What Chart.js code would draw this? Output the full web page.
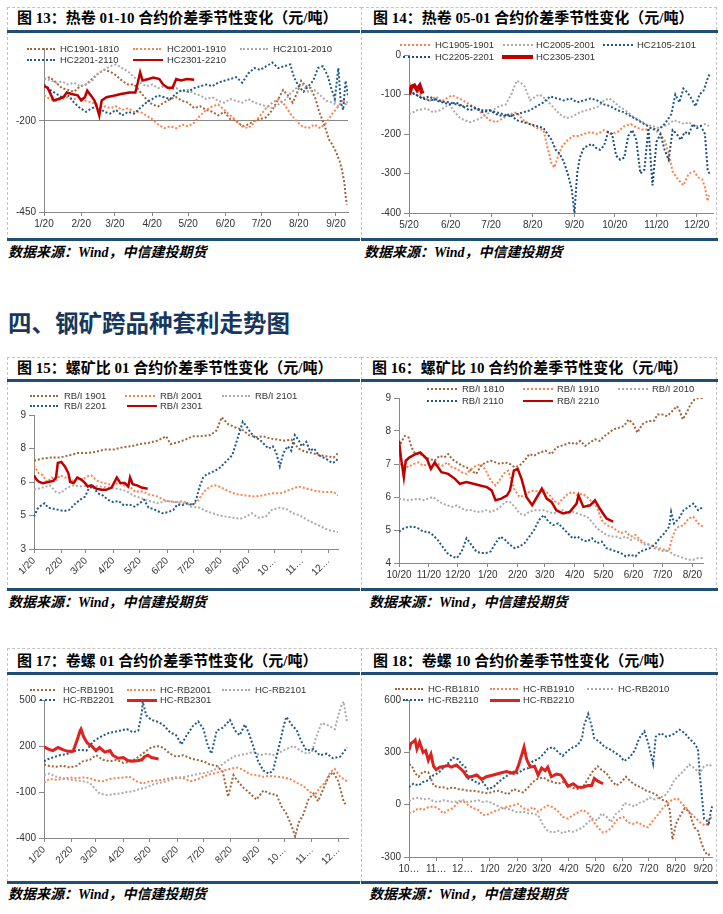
<!DOCTYPE html>
<html>
<head>
<meta charset="utf-8">
<title>钢矿价差季节性</title>
<script src="https://cdn.jsdelivr.net/npm/chart.js@4.4.1/dist/chart.umd.min.js"></script>
<style>
body { margin:0; width:723px; height:914px; position:relative; background:#fff; overflow:hidden; }
.box { position:absolute; border:1px dashed #c4c4c4; box-sizing:border-box; }
.ttl { position:absolute; font-family:"Liberation Serif","Noto Sans CJK SC",serif; font-weight:bold; font-size:15px; line-height:16px; color:#000; white-space:nowrap; }
.rule { position:absolute; height:3px; background:#1f4e79; }
.src { position:absolute; font-family:"Liberation Serif","Noto Sans CJK SC",serif; font-style:italic; font-weight:bold; font-size:14px; line-height:14px; color:#000; white-space:nowrap; }
.head { position:absolute; left:8px; top:308px; font-family:"Noto Sans CJK SC",sans-serif; font-weight:bold; font-size:23.5px; line-height:28px; color:#17375e; white-space:nowrap; }
canvas { position:absolute; }
.lgs { position:absolute; height:0; }
.lgt { position:absolute; font-family:"Liberation Sans","DejaVu Sans",sans-serif; font-size:9.5px; line-height:12px; color:#333; white-space:nowrap; }
</style>
</head>
<body>
<div class="head">四、钢矿跨品种套利走势图</div>
<script>
// data points are [days after first axis date, value]

// 图13 热卷01-10 (days from 1/20)
const hc1901_1810 = [[0,-85],[5,-80],[10,-95],[15,-110],[20,-115],[25,-120],[30,-105],[35,-100],[40,-85],[45,-70],[50,-60],[55,-65],[60,-75],[65,-90],[70,-100],[75,-100],[80,-120],[85,-140],[90,-155],[95,-160],[100,-150],[105,-140],[110,-135],[115,-145],[120,-150],[125,-165],[130,-160],[135,-170],[140,-175],[145,-185],[150,-175],[155,-195],[160,-200],[165,-215],[170,-210],[175,-200],[180,-195],[185,-190],[190,-170],[195,-140],[199,-115],[203,-130],[207,-150],[211,-120],[214,-90],[218,-105],[222,-110],[226,-140],[229,-175],[232,-200],[234,-217],[237,-250],[240,-265],[243,-285],[246,-310],[248,-335],[250,-370],[251,-405],[252,-430]];
const hc2001_1910 = [[0,-130],[5,-140],[10,-145],[15,-140],[20,-135],[25,-140],[30,-135],[35,-145],[40,-150],[45,-155],[50,-160],[55,-165],[60,-160],[65,-170],[70,-165],[75,-175],[80,-175],[85,-185],[90,-195],[95,-210],[100,-220],[105,-215],[110,-220],[115,-210],[120,-215],[125,-205],[130,-185],[135,-170],[140,-160],[145,-155],[150,-170],[155,-185],[160,-200],[165,-215],[170,-220],[175,-205],[180,-185],[185,-165],[190,-150],[195,-140],[200,-155],[205,-180],[210,-200],[215,-215],[220,-220],[225,-210],[230,-220],[235,-205],[240,-180],[245,-160],[249,-140],[252,-160]];
const hc2101_2010 = [[0,-85],[5,-88],[10,-95],[15,-92],[20,-100],[25,-95],[30,-105],[35,-100],[40,-90],[45,-70],[50,-60],[55,-50],[60,-45],[65,-55],[70,-65],[75,-80],[80,-95],[85,-105],[90,-100],[95,-110],[100,-105],[105,-115],[110,-110],[115,-120],[120,-115],[125,-125],[130,-130],[135,-140],[140,-135],[145,-145],[150,-150],[155,-140],[160,-145],[165,-150],[170,-140],[175,-150],[180,-155],[185,-160],[190,-165],[195,-155],[200,-145],[205,-125],[210,-110],[215,-100],[220,-120],[225,-115],[230,-130],[235,-145],[240,-150],[245,-160],[250,-145],[253,-150]];
const hc2201_2110 = [[0,-100],[5,-115],[10,-125],[15,-135],[20,-130],[25,-150],[30,-165],[35,-175],[40,-165],[45,-160],[50,-175],[55,-180],[60,-170],[65,-185],[70,-175],[75,-180],[80,-165],[85,-150],[90,-140],[95,-130],[100,-135],[105,-140],[110,-125],[115,-115],[120,-120],[125,-110],[130,-105],[135,-100],[140,-105],[145,-95],[150,-90],[155,-85],[160,-80],[165,-95],[170,-70],[175,-55],[180,-60],[185,-50],[190,-40],[195,-55],[200,-50],[205,-45],[208,-80],[212,-105],[216,-120],[220,-105],[224,-90],[228,-55],[232,-50],[236,-75],[239,-110],[242,-140],[245,-55],[247,-150],[249,-170],[251,-90],[253,-130]];
const hc2301_2210 = [[0,-105],[3,-109],[6,-130],[8,-144],[12,-140],[16,-135],[19,-122],[23,-126],[28,-130],[31,-144],[34,-135],[36,-117],[39,-130],[42,-144],[44,-162],[46,-185],[48,-144],[52,-135],[58,-131],[64,-126],[71,-122],[76,-122],[78,-96],[80,-67],[82,-89],[87,-85],[91,-81],[96,-85],[99,-100],[103,-109],[107,-109],[110,-85],[114,-89],[119,-85],[125,-87]];
const days13 = [0,31,59,90,120,151,181,212,243];
const labels13 = ['1/20','2/20','3/20','4/20','5/20','6/20','7/20','8/20','9/20'];
const yTicks13 = [-450,-200];

// 图14 热卷05-01 (days from 5/20)
const hc1905_1901 = [[0,-70],[4,-80],[8,-100],[12,-110],[16,-115],[20,-105],[24,-118],[28,-110],[32,-102],[36,-108],[40,-115],[45,-125],[50,-135],[55,-150],[60,-165],[65,-170],[70,-160],[75,-150],[80,-145],[85,-165],[90,-175],[95,-185],[100,-190],[103,-235],[106,-275],[108,-285],[111,-255],[114,-230],[118,-215],[122,-205],[126,-205],[130,-200],[135,-195],[140,-200],[145,-190],[150,-200],[155,-195],[160,-180],[165,-175],[170,-185],[175,-190],[180,-185],[185,-195],[190,-215],[193,-250],[196,-295],[200,-315],[204,-330],[208,-300],[212,-295],[215,-310],[218,-315],[220,-335],[222,-370],[223,-355]];
const hc2005_2001 = [[0,-150],[6,-140],[13,-135],[18,-145],[23,-140],[30,-125],[34,-145],[38,-160],[45,-170],[50,-165],[53,-160],[58,-150],[62,-140],[67,-130],[72,-125],[76,-100],[80,-65],[83,-70],[86,-80],[90,-115],[94,-105],[97,-100],[101,-110],[104,-120],[108,-135],[112,-150],[117,-160],[122,-155],[127,-145],[132,-140],[137,-135],[141,-130],[145,-115],[149,-110],[153,-120],[156,-130],[161,-140],[166,-155],[171,-165],[176,-175],[181,-180],[186,-185],[190,-180],[193,-175],[197,-165],[201,-170],[205,-175],[208,-170],[212,-180],[216,-180],[220,-175],[223,-180]];
const hc2105_2101 = [[0,-95],[5,-100],[10,-110],[15,-115],[20,-112],[25,-118],[30,-120],[35,-125],[40,-130],[45,-128],[50,-135],[55,-140],[60,-140],[65,-145],[70,-150],[75,-155],[80,-150],[85,-145],[90,-140],[95,-130],[100,-120],[105,-105],[110,-110],[115,-115],[120,-110],[125,-120],[130,-115],[135,-110],[140,-115],[145,-125],[150,-130],[155,-140],[160,-145],[165,-155],[170,-165],[175,-175],[180,-185],[185,-190],[190,-175],[195,-150],[198,-100],[201,-120],[204,-85],[207,-95],[210,-110],[213,-130],[216,-100],[219,-90],[222,-60],[224,-45]];
const hc2205_2201 = [[0,-90],[5,-100],[10,-110],[15,-105],[20,-115],[25,-120],[30,-125],[35,-120],[40,-130],[45,-140],[50,-135],[55,-145],[60,-140],[65,-150],[70,-155],[75,-150],[80,-165],[85,-170],[90,-175],[95,-180],[100,-185],[103,-200],[106,-215],[109,-240],[112,-250],[115,-270],[118,-300],[121,-340],[123,-400],[125,-300],[127,-260],[130,-235],[133,-230],[136,-225],[139,-235],[142,-240],[145,-230],[148,-195],[151,-200],[154,-255],[157,-265],[160,-260],[163,-205],[166,-190],[169,-215],[172,-300],[175,-290],[178,-185],[181,-330],[184,-220],[187,-200],[190,-240],[193,-265],[196,-190],[199,-200],[202,-215],[205,-195],[208,-200],[211,-175],[214,-185],[217,-180],[220,-200],[222,-290],[224,-305]];
const hc2305_2301 = [[0,-100],[2,-80],[4,-77],[6,-88],[8,-78],[10,-98]];
const days14 = [0,31,61,92,123,153,184,214];
const labels14 = ['5/20','6/20','7/20','8/20','9/20','10/20','11/20','12/20'];
const yTicks14 = [-400,-300,-200,-100,0];

// 图15 螺矿比01 (days from 1/20)
const rbi1901 = [[0,6.95],[10,7.05],[20,7.1],[30,7.1],[40,7.2],[50,7.3],[60,7.3],[70,7.35],[80,7.45],[90,7.45],[100,7.55],[110,7.6],[120,7.7],[130,7.75],[140,7.85],[150,8.05],[155,7.7],[165,7.8],[172,7.9],[180,8.05],[190,8.05],[200,8.1],[207,8.3],[213,8.9],[220,8.6],[228,8.45],[236,8.35],[244,8.1],[252,8.0],[260,8.05],[268,7.95],[276,7.9],[284,7.85],[292,7.9],[300,7.5],[308,7.35],[316,7.3],[324,7.2],[332,7.15],[340,7.1],[345,7.3]];
const rbi2001 = [[0,6.75],[5,6.4],[10,6.3],[15,6.0],[20,6.2],[25,6.1],[30,6.3],[35,6.2],[40,6.2],[45,6.0],[50,6.2],[55,6.1],[60,6.25],[65,6.3],[70,6.1],[75,6.0],[80,5.95],[85,5.9],[90,5.85],[95,5.95],[100,5.9],[105,5.8],[110,5.75],[115,5.55],[120,5.6],[125,5.55],[130,5.45],[140,5.35],[150,5.15],[160,5.1],[170,5.05],[180,5.0],[185,5.1],[190,5.4],[195,5.65],[200,5.8],[205,5.85],[210,5.8],[215,5.7],[220,5.6],[230,5.45],[240,5.4],[250,5.35],[260,5.4],[270,5.5],[280,5.5],[290,5.65],[300,5.8],[310,5.7],[320,5.6],[330,5.55],[340,5.55],[345,5.4]];
const rbi2101 = [[0,5.65],[10,5.75],[18,5.85],[25,5.55],[30,5.5],[38,5.75],[45,5.85],[55,5.8],[65,5.85],[75,5.8],[85,5.75],[95,5.7],[105,5.6],[112,5.4],[120,5.3],[130,5.15],[140,5.05],[150,5.15],[160,5.1],[170,5.15],[178,4.9],[188,4.85],[195,4.7],[203,4.6],[210,4.5],[218,4.45],[226,4.4],[234,4.35],[241,4.45],[247,4.6],[255,4.4],[263,4.45],[270,4.75],[278,4.85],[286,4.8],[294,4.6],[302,4.5],[310,4.3],[318,4.15],[326,4.0],[334,3.85],[340,3.8],[345,3.75]];
const rbi2201 = [[0,4.45],[4,4.8],[8,4.95],[12,5.05],[16,4.85],[22,4.8],[28,4.75],[34,4.7],[40,4.75],[46,5.0],[52,5.2],[58,5.35],[62,5.7],[67,5.8],[72,5.5],[78,5.4],[84,5.2],[90,5.1],[96,5.15],[102,4.95],[108,5.0],[114,4.9],[120,5.05],[125,5.2],[130,4.85],[135,4.8],[140,4.7],[146,4.6],[152,4.65],[158,4.75],[163,5.0],[168,4.95],[174,5.05],[180,4.95],[184,5.2],[188,5.8],[192,6.2],[196,6.35],[200,6.4],[205,6.5],[210,6.6],[215,6.8],[220,7.0],[225,7.2],[229,7.7],[233,8.2],[237,8.7],[241,8.5],[246,8.2],[251,8.0],[256,7.9],[261,7.7],[266,7.5],[271,7.6],[275,7.3],[279,6.7],[283,7.3],[288,7.6],[292,7.4],[296,8.1],[300,7.9],[304,7.6],[309,7.8],[313,7.4],[318,7.5],[323,7.2],[328,7.1],[333,7.0],[338,6.85],[342,6.9],[345,7.05]];
const rbi2301 = [[0,6.3],[3,6.1],[6,6.0],[10,5.95],[16,6.0],[22,6.05],[25,6.2],[27,6.85],[31,6.9],[35,6.7],[39,6.4],[41,6.0],[45,5.95],[49,6.2],[54,6.1],[58,5.95],[61,5.8],[65,5.85],[71,5.7],[77,5.65],[82,5.65],[88,5.75],[92,6.05],[94,6.2],[98,5.95],[103,5.95],[107,5.8],[109,6.2],[112,5.9],[117,5.85],[122,5.75],[129,5.7]];
const days15 = [0,31,59,90,120,151,181,212,243,273,304,334];
const labels15 = ['1/20','2/20','3/20','4/20','5/20','6/20','7/20','8/20','9/20','10\u2026','11\u2026','12\u2026'];
const yTicks15 = [3,4.5,6,7.5,9];
const yLabels15 = ['3','5','6','8','9'];

// 图16 螺矿比10 (days from 10/20)
const rbi1810 = [[0,7.5],[3,7.7],[6,7.85],[10,7.8],[13,7.5],[17,7.3],[22,7.3],[27,7.2],[32,7.15],[37,7.1],[42,7.25],[47,7.2],[51,7.3],[55,7.15],[60,7.05],[65,6.95],[70,6.9],[75,6.8],[80,6.7],[85,6.95],[90,7.05],[95,7.1],[100,7.05],[105,7.0],[110,7.05],[115,7.0],[120,6.9],[125,6.95],[130,7.1],[135,7.3],[140,7.25],[146,7.35],[152,7.4],[158,7.3],[163,7.5],[168,7.55],[173,7.6],[178,7.65],[183,7.6],[188,7.7],[193,7.55],[198,7.65],[203,7.75],[208,7.7],[213,7.85],[218,7.95],[222,8.05],[228,8.1],[233,8.15],[238,8.35],[243,8.2],[247,7.95],[252,8.2],[258,8.3],[264,8.3],[268,8.5],[273,8.5],[278,8.45],[283,8.6],[288,8.75],[291,8.6],[294,8.35],[298,8.55],[302,8.8],[306,8.95],[310,9.0],[315,9.0]];
const rbi1910 = [[0,7.0],[5,6.95],[10,6.9],[15,7.0],[20,7.05],[25,6.95],[30,7.0],[35,6.9],[40,7.0],[45,6.95],[50,7.05],[55,6.9],[60,6.85],[65,6.75],[70,6.7],[75,6.85],[80,6.95],[85,7.0],[90,6.8],[95,6.5],[100,6.35],[103,6.45],[106,6.6],[110,6.75],[113,6.8],[116,6.55],[120,6.2],[125,6.0],[130,6.05],[135,6.15],[140,6.2],[145,6.15],[150,6.2],[155,6.1],[160,5.9],[165,5.8],[170,5.95],[175,6.1],[180,6.15],[185,6.05],[190,6.1],[195,6.0],[200,5.85],[205,5.7],[210,5.3],[215,5.15],[220,5.1],[225,5.0],[230,4.9],[235,4.95],[240,4.8],[245,4.85],[250,4.7],[255,4.6],[260,4.55],[265,4.45],[270,4.4],[275,4.35],[280,4.4],[283,4.75],[287,5.05],[290,5.1],[295,5.15],[300,5.35],[305,5.4],[310,5.2],[315,5.1]];
const rbi2010 = [[0,5.95],[10,5.9],[20,5.95],[25,5.9],[30,5.95],[35,6.0],[40,5.9],[45,5.8],[50,5.75],[55,5.7],[60,5.75],[65,5.65],[70,5.6],[75,5.6],[80,5.55],[85,5.55],[90,5.6],[95,5.55],[100,5.6],[105,5.7],[110,5.85],[115,5.85],[120,5.7],[125,5.5],[130,5.45],[135,5.55],[140,5.6],[145,5.6],[150,5.6],[155,5.55],[160,5.5],[165,5.55],[170,5.6],[175,5.5],[180,5.55],[185,5.5],[190,5.45],[195,5.4],[200,5.25],[205,5.05],[210,4.95],[215,4.85],[220,4.8],[225,4.8],[230,4.75],[235,4.8],[240,4.7],[245,4.75],[250,4.65],[255,4.55],[260,4.55],[265,4.5],[270,4.45],[275,4.4],[280,4.35],[285,4.25],[290,4.2],[295,4.15],[300,4.1],[305,4.1],[310,4.15],[315,4.15]];
const rbi2110 = [[0,4.95],[5,5.05],[10,5.1],[15,5.1],[20,5.05],[25,4.95],[30,4.95],[35,4.85],[40,4.7],[45,4.5],[50,4.3],[55,4.2],[60,4.15],[65,4.35],[70,4.75],[75,4.55],[80,4.35],[85,4.3],[90,4.3],[95,4.35],[100,4.6],[105,4.8],[110,4.7],[115,4.55],[120,4.45],[125,4.5],[130,4.6],[135,4.8],[140,5.0],[145,5.3],[150,5.45],[155,5.25],[160,5.15],[165,5.2],[170,5.05],[175,4.9],[180,4.75],[185,4.8],[190,4.7],[195,4.65],[200,4.75],[205,4.6],[210,4.65],[215,4.45],[220,4.4],[225,4.35],[230,4.3],[235,4.2],[240,4.25],[245,4.2],[250,4.35],[255,4.4],[260,4.45],[265,4.55],[270,4.75],[275,4.9],[280,5.1],[282,5.55],[285,5.2],[290,5.35],[295,5.6],[300,5.7],[305,5.8],[310,5.6],[315,5.7]];
const rbi2210 = [[0,7.7],[2,7.2],[5,6.6],[7,7.1],[11,7.2],[17,7.3],[22,7.35],[29,7.15],[33,6.85],[37,7.05],[44,6.75],[51,6.7],[58,6.55],[63,6.4],[70,6.45],[77,6.4],[84,6.35],[91,6.3],[96,6.2],[100,5.9],[106,5.95],[112,6.05],[115,6.2],[119,6.8],[123,6.85],[127,6.55],[132,6.0],[138,5.75],[143,6.0],[148,6.25],[153,5.95],[158,5.85],[163,5.6],[170,5.5],[177,5.55],[184,5.8],[186,6.05],[191,5.7],[198,5.75],[203,5.9],[208,5.65],[215,5.35],[222,5.25]];
const days16 = [0,31,61,92,123,151,182,212,243,273,304];
const labels16 = ['10/20','11/20','12/20','1/20','2/20','3/20','4/20','5/20','6/20','7/20','8/20'];
const yTicks16 = [4,5,6,7,8,9];

// 图17 卷螺01 (days from 1/20)
const hcrb1901 = [[0,80],[6,70],[14,65],[22,70],[29,60],[37,70],[44,100],[52,110],[59,140],[67,110],[75,100],[82,110],[90,90],[97,95],[105,120],[112,150],[120,185],[128,200],[135,190],[143,150],[150,130],[158,140],[166,120],[173,110],[181,100],[188,80],[196,70],[203,30],[209,-130],[215,10],[220,-30],[226,-70],[234,-110],[241,-150],[249,-90],[256,-110],[264,-120],[270,-200],[275,-240],[281,-320],[285,-390],[289,-300],[294,-250],[300,-150],[306,-110],[311,-160],[317,-80],[323,0],[328,30],[334,-30],[340,-160],[342,-180]];
const hcrb2001 = [[0,-40],[6,-15],[14,-20],[22,-15],[29,-5],[37,-10],[44,-5],[52,-10],[59,-25],[67,-30],[75,-15],[82,-10],[90,-5],[97,0],[105,-30],[112,-45],[120,-30],[128,-25],[135,-20],[143,-10],[150,-5],[158,-10],[166,-30],[173,-20],[181,0],[188,15],[196,25],[203,40],[211,50],[219,60],[226,45],[234,15],[241,10],[249,0],[256,5],[264,0],[272,-5],[279,-15],[287,-40],[294,-60],[302,-100],[307,-125],[313,-70],[319,-40],[325,30],[330,50],[336,0],[344,-30]];
const hcrb2101 = [[0,10],[6,20],[14,0],[22,-10],[29,-20],[37,-25],[44,-30],[52,-40],[58,-80],[63,-110],[71,-120],[78,-115],[86,-110],[94,-100],[101,-95],[109,-80],[116,-70],[124,-50],[131,-40],[139,-30],[147,-15],[154,-5],[162,0],[169,10],[177,20],[184,25],[192,40],[200,70],[207,100],[215,130],[222,140],[230,150],[238,160],[245,140],[253,150],[260,140],[268,160],[275,180],[283,200],[291,170],[298,150],[304,160],[309,260],[315,350],[321,340],[327,320],[330,310],[334,400],[338,470],[340,490],[344,350]];
const hcrb2201 = [[0,100],[5,115],[10,125],[18,140],[25,145],[33,165],[41,175],[48,170],[56,230],[63,255],[71,280],[78,290],[86,300],[94,310],[101,290],[107,300],[111,420],[112,490],[116,400],[122,370],[128,360],[135,340],[143,290],[150,270],[156,210],[162,270],[169,330],[175,360],[181,310],[186,200],[190,150],[196,300],[203,320],[211,370],[217,300],[222,270],[228,340],[232,290],[238,190],[243,100],[249,40],[255,20],[260,40],[266,180],[272,330],[275,390],[281,340],[287,300],[292,230],[298,170],[306,180],[313,140],[321,150],[328,120],[336,130],[344,190]];
const hcrb2301 = [[0,195],[5,180],[10,170],[16,190],[22,175],[27,165],[33,165],[37,230],[41,300],[42,310],[45,260],[49,220],[54,200],[59,170],[63,190],[69,160],[75,170],[78,140],[84,120],[90,125],[95,105],[101,100],[107,105],[111,110],[114,130],[118,140],[122,125],[126,120],[130,115]];
const yTicks17 = [-400,-100,200,500];

// 图18 卷螺10 (days from 10/20)
const hcrb1810 = [[0,230],[3,225],[7,180],[11,160],[16,190],[22,185],[28,110],[33,100],[39,100],[45,90],[50,100],[56,90],[62,85],[67,80],[73,80],[79,75],[84,70],[90,65],[96,75],[102,80],[107,70],[113,60],[119,90],[124,80],[130,70],[136,100],[141,130],[147,150],[153,155],[158,140],[164,130],[170,120],[175,130],[181,110],[187,95],[192,90],[198,100],[204,150],[209,190],[215,220],[219,200],[225,180],[230,140],[236,110],[242,130],[247,160],[253,130],[259,110],[264,100],[270,80],[276,70],[281,60],[287,30],[293,20],[297,-30],[300,-200],[304,-110],[308,-70],[314,-20],[319,-40],[325,-130],[329,-150],[333,-220],[336,-260],[340,-290],[344,-280]];
const hcrb1910 = [[0,-50],[5,-40],[11,-20],[16,-30],[22,-15],[28,-10],[33,-20],[39,-50],[45,-30],[50,-20],[56,15],[62,20],[67,0],[73,-20],[79,-30],[84,-60],[90,-55],[96,-40],[102,-30],[107,-20],[113,-10],[119,-5],[124,5],[130,-20],[136,-30],[141,-15],[147,-40],[153,-20],[158,-5],[164,-15],[170,-40],[175,-70],[181,-80],[187,-60],[192,-45],[198,-30],[204,-50],[209,-90],[215,-130],[221,-160],[227,-150],[232,-120],[238,-80],[244,-70],[249,-100],[255,-110],[261,-100],[266,-120],[272,-130],[278,-90],[283,-60],[289,-20],[295,10],[300,30],[306,35],[310,10],[316,-20],[321,-50],[327,-80],[333,-110],[338,-120],[342,-90],[346,-60]];
const hcrb2010 = [[0,20],[5,35],[11,40],[16,30],[22,35],[28,20],[33,15],[39,25],[45,20],[50,15],[56,20],[62,25],[67,15],[73,20],[79,25],[84,15],[90,20],[96,5],[102,-10],[107,-20],[113,-25],[119,-35],[124,-45],[130,-40],[136,-50],[141,-50],[147,-60],[153,-120],[158,-150],[164,-160],[170,-150],[175,-165],[181,-150],[187,-155],[192,-145],[198,-130],[204,-100],[209,-80],[215,-90],[219,-50],[225,-70],[230,-100],[236,-50],[242,-30],[245,10],[251,0],[257,-10],[262,10],[268,20],[274,40],[280,30],[285,40],[291,50],[297,90],[302,140],[308,170],[314,200],[319,230],[325,210],[331,180],[336,220],[342,230],[346,215]];
const hcrb2110 = [[0,100],[5,120],[11,110],[16,130],[22,140],[28,170],[33,180],[39,210],[45,240],[50,270],[56,260],[60,230],[64,220],[67,150],[73,140],[79,120],[84,130],[90,90],[96,100],[102,130],[107,150],[113,170],[119,190],[124,180],[130,200],[136,210],[141,250],[147,260],[153,290],[158,320],[164,330],[170,300],[175,280],[181,310],[187,330],[192,340],[197,380],[199,450],[204,520],[208,450],[211,380],[217,360],[223,330],[228,320],[234,300],[240,280],[245,250],[251,270],[257,310],[262,380],[268,420],[272,360],[278,235],[281,390],[287,410],[293,390],[300,400],[308,430],[314,410],[319,380],[325,350],[329,320],[331,180],[334,20],[336,-80],[339,-90],[341,-120],[344,-30],[346,0]];
const hcrb2210 = [[0,313],[2,350],[5,360],[7,370],[9,320],[12,360],[16,300],[19,310],[22,255],[25,290],[28,220],[31,200],[35,215],[41,220],[45,225],[48,215],[54,227],[58,210],[62,190],[66,160],[71,160],[77,170],[83,145],[88,160],[96,170],[103,180],[111,190],[119,180],[122,190],[125,230],[128,280],[131,330],[134,260],[138,215],[143,220],[147,170],[151,210],[155,195],[158,215],[162,160],[168,175],[173,170],[177,140],[181,105],[187,120],[192,100],[198,100],[204,110],[208,110],[211,150],[215,135],[221,120]];
const days18 = [0,31,61,92,123,151,182,212,243,273,304,335];
const labels18 = ['10\u2026','11\u2026','12\u2026','1/20','2/20','3/20','4/20','5/20','6/20','7/20','8/20','9/20'];
const yTicks18 = [-300,0,300,600];

// ---- styles ----
const BROWN = '#a0653a', ORANGE = '#f5844f', GRAY = '#ababab', BLUE = '#1f5a8a';
const RED = '#c00000', RED2 = '#dc2320';

Chart.defaults.font.family = '"Liberation Sans", "DejaVu Sans", sans-serif';
Chart.defaults.font.size = 10;
Chart.defaults.color = '#333';

const SOURCE = '数据来源：Wind，中信建投期货';

const panels = [
  { title: '图 13：热卷 01-10 合约价差季节性变化（元/吨）', box: [7, 7, 355, 233], tx: 17, ty: 10, r1: 30, r2: 238, src: [8, 246],
    cv: [8, 33, 350, 205], yW: 36, padTop: 15, padRight: 10, xH: 26, rot: 0,
    xMax: 253, xTicks: days13, xLabels: labels13, yMin: -450, yMax: 0, yTicks: yTicks13, yLabels: yTicks13.map(String), grid: -200,
    series: [
      { label: 'HC1901-1810', data: hc1901_1810, color: BROWN },
      { label: 'HC2001-1910', data: hc2001_1910, color: ORANGE },
      { label: 'HC2101-2010', data: hc2101_2010, color: GRAY },
      { label: 'HC2201-2110', data: hc2201_2110, color: BLUE },
      { label: 'HC2301-2210', data: hc2301_2210, color: RED, solid: true, width: 2.5 }
    ],
    legend: [[27, 49, 28, 60], [133, 49, 28, 167], [240, 49, 28, 273], [27, 60, 28, 60], [133, 60, 30, 167]] },
  { title: '图 14：热卷 05-01 合约价差季节性变化（元/吨）', box: [361, 7, 356, 233], tx: 373, ty: 10, r1: 30, r2: 238, src: [364, 246],
    cv: [363, 33, 352, 205], yW: 46, padTop: 22, padRight: 2, xH: 25, rot: 0,
    xMax: 226, xTicks: days14, xLabels: labels14, yMin: -400, yMax: 0, yTicks: yTicks14, yLabels: yTicks14.map(String),
    series: [
      { label: 'HC1905-1901', data: hc1905_1901, color: ORANGE },
      { label: 'HC2005-2001', data: hc2005_2001, color: GRAY },
      { label: 'HC2105-2101', data: hc2105_2101, color: BLUE },
      { label: 'HC2205-2201', data: hc2205_2201, color: '#1d4f7c' },
      { label: 'HC2305-2301', data: hc2305_2301, color: RED, solid: true, width: 4 }
    ],
    legend: [[400, 45, 30, 435], [503, 45, 30, 536], [603, 45, 30, 637], [403, 57, 27, 435], [502, 57, 31, 536]] },
  { title: '图 15：螺矿比 01 合约价差季节性变化（元/吨）', box: [7, 357, 355, 233], tx: 17, ty: 360, r1: 379, r2: 588, src: [8, 596],
    cv: [8, 382, 352, 206], yW: 26, padTop: 33, padRight: 22, xH: 39, rot: 45,
    xMax: 345, xTicks: days15, xLabels: labels15, yMin: 3, yMax: 9, yTicks: yTicks15, yLabels: yLabels15,
    series: [
      { label: 'RB/I 1901', data: rbi1901, color: BROWN },
      { label: 'RB/I 2001', data: rbi2001, color: ORANGE },
      { label: 'RB/I 2101', data: rbi2101, color: GRAY },
      { label: 'RB/I 2201', data: rbi2201, color: BLUE },
      { label: 'RB/I 2301', data: rbi2301, color: RED, solid: true, width: 2.5 }
    ],
    legend: [[30, 396, 28, 64], [125, 396, 30, 160], [222, 396, 28, 255], [30, 406, 28, 64], [127, 406, 30, 160]] },
  { title: '图 16：螺矿比 10 合约价差季节性变化（元/吨）', box: [361, 357, 356, 233], tx: 372, ty: 360, r1: 379, r2: 588, src: [369, 596],
    cv: [363, 382, 352, 206], yW: 36, padTop: 16, padRight: 12, xH: 25, rot: 0,
    xMax: 315, xTicks: days16, xLabels: labels16, yMin: 4, yMax: 9, yTicks: yTicks16, yLabels: yTicks16.map(String),
    series: [
      { label: 'RB/I 1810', data: rbi1810, color: BROWN },
      { label: 'RB/I 1910', data: rbi1910, color: ORANGE },
      { label: 'RB/I 2010', data: rbi2010, color: GRAY },
      { label: 'RB/I 2110', data: rbi2110, color: BLUE },
      { label: 'RB/I 2210', data: rbi2210, color: RED, solid: true, width: 2.5 }
    ],
    legend: [[427, 389, 30, 462], [523, 389, 30, 557], [618, 389, 30, 652], [427, 401, 30, 462], [523, 401, 30, 557]] },
  { title: '图 17：卷螺 01 合约价差季节性变化（元/吨）', box: [7, 648, 355, 234], tx: 17, ty: 653, r1: 672, r2: 881, src: [8, 888],
    cv: [8, 675, 352, 206], yW: 36, padTop: 25, padRight: 12, xH: 43, rot: 45,
    xMax: 345, xTicks: days15, xLabels: labels15, yMin: -400, yMax: 500, yTicks: yTicks17, yLabels: yTicks17.map(String),
    series: [
      { label: 'HC-RB1901', data: hcrb1901, color: BROWN },
      { label: 'HC-RB2001', data: hcrb2001, color: ORANGE },
      { label: 'HC-RB2101', data: hcrb2101, color: GRAY },
      { label: 'HC-RB2201', data: hcrb2201, color: BLUE },
      { label: 'HC-RB2301', data: hcrb2301, color: RED2, solid: true, width: 3 }
    ],
    legend: [[30, 690, 25, 63], [127, 690, 28, 160], [222, 690, 28, 255], [40, 700, 15, 63], [127, 700, 30, 160]] },
  { title: '图 18：卷螺 10 合约价差季节性变化（元/吨）', box: [361, 648, 356, 234], tx: 373, ty: 653, r1: 672, r2: 881, src: [369, 888],
    cv: [363, 675, 352, 206], yW: 46, padTop: 25, padRight: 2, xH: 24, rot: 0,
    xMax: 346, xTicks: days18, xLabels: labels18, yMin: -300, yMax: 600, yTicks: yTicks18, yLabels: yTicks18.map(String),
    series: [
      { label: 'HC-RB1810', data: hcrb1810, color: BROWN },
      { label: 'HC-RB1910', data: hcrb1910, color: ORANGE },
      { label: 'HC-RB2010', data: hcrb2010, color: GRAY },
      { label: 'HC-RB2110', data: hcrb2110, color: BLUE },
      { label: 'HC-RB2210', data: hcrb2210, color: RED2, solid: true, width: 3 }
    ],
    legend: [[395, 689, 28, 428], [490, 689, 28, 523], [587, 689, 26, 618], [403, 700, 20, 428], [490, 700, 30, 523]] }
];

function put(cls, css, text) {
  const d = document.createElement('div');
  d.className = cls;
  Object.assign(d.style, css);
  if (text) d.textContent = text;
  document.body.appendChild(d);
  return d;
}

function drawPanel(p) {
  put('box', { left: p.box[0] + 'px', top: p.box[1] + 'px', width: p.box[2] + 'px', height: p.box[3] + 'px' });
  put('ttl', { left: p.tx + 'px', top: p.ty + 'px' }, p.title);
  const rw = p.box[0] < 100 ? 353 : 357;
  put('rule', { left: p.box[0] + 'px', top: p.r1 + 'px', width: rw + 'px' });
  put('rule', { left: p.box[0] + 'px', top: p.r2 + 'px', width: rw + 'px' });
  put('src', { left: p.src[0] + 'px', top: p.src[1] + 'px' }, SOURCE);

  const cv = document.createElement('canvas');
  cv.width = p.cv[2]; cv.height = p.cv[3];
  cv.style.left = p.cv[0] + 'px'; cv.style.top = p.cv[1] + 'px';
  document.body.appendChild(cv);

  const n = p.series.length;
  new Chart(cv, {
    type: 'line',
    data: {
      datasets: p.series.map((s, i) => ({
        label: s.label,
        data: s.data.map(pt => ({ x: pt[0], y: pt[1] })),
        borderColor: s.color,
        borderWidth: s.width || 2,
        borderDash: s.solid ? [] : [2, 2],
        pointRadius: 0,
        tension: 0,
        fill: false,
        order: n - i
      }))
    },
    options: {
      responsive: false,
      animation: false,
      devicePixelRatio: 1,
      events: [],
      layout: { padding: { left: 0, top: p.padTop, right: p.padRight, bottom: 0 } },
      plugins: { legend: { display: false }, tooltip: { enabled: false } },
      scales: {
        x: {
          type: 'linear', min: 0, max: p.xMax,
          afterBuildTicks: sc => { sc.ticks = p.xTicks.map(v => ({ value: v })); },
          afterFit: sc => { sc.height = p.xH; },
          ticks: { autoSkip: false, minRotation: p.rot, maxRotation: p.rot, padding: 2,
                   callback: (v, i) => p.xLabels[i] },
          grid: { drawOnChartArea: false, tickLength: 4, color: '#888' },
          border: { color: '#888' }
        },
        y: {
          min: p.yMin, max: p.yMax,
          afterBuildTicks: sc => { sc.ticks = p.yTicks.map(v => ({ value: v })); },
          afterFit: sc => { sc.width = p.yW; },
          ticks: { padding: 3, callback: (v, i) => p.yLabels[i] },
          grid: {
            drawOnChartArea: p.grid !== undefined,
            color: ctx => (ctx.tick && ctx.tick.value === p.grid) ? '#888' : 'rgba(0,0,0,0)',
            tickColor: '#888', tickLength: 5
          },
          border: { color: '#888' }
        }
      }
    }
  });

  // legend, drawn over the plot like the original
  p.series.forEach((s, i) => {
    const [sx, sy, len, tx] = p.legend[i];
    const w = s.width || 2;
    put('lgs', { left: sx + 'px', top: (sy - w / 2) + 'px', width: len + 'px',
                 borderTop: w + 'px ' + (s.solid ? 'solid ' : 'dotted ') + s.color });
    put('lgt', { left: tx + 'px', top: (sy - 6) + 'px' }, s.label);
  });
}

panels.forEach(drawPanel);
</script>
</body>
</html>
